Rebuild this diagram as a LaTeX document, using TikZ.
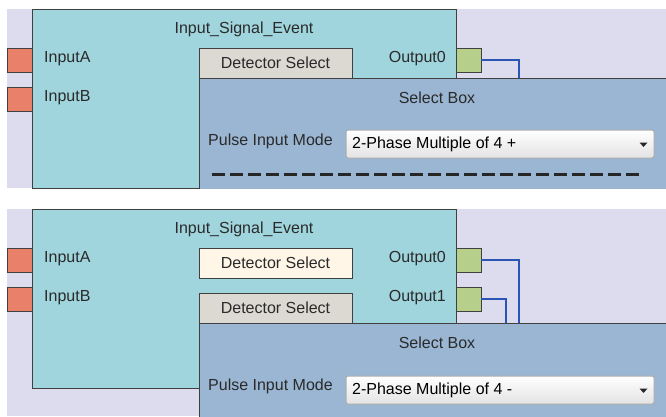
\documentclass[tikz,border=0pt]{standalone}
\usepackage{fontspec}
\setmainfont{Liberation Sans}
\definecolor{bglav}{HTML}{DCDCEE}
\definecolor{tealf}{HTML}{A0D5DD}
\definecolor{self}{HTML}{9AB6D3}
\definecolor{inport}{HTML}{E8806A}
\definecolor{outport}{HTML}{B6CF8A}
\definecolor{detgray}{HTML}{DCD9D2}
\definecolor{detcream}{HTML}{FFF6E8}
\definecolor{edge}{HTML}{404040}
\definecolor{wireblue}{HTML}{2B55B5}
\definecolor{txt}{HTML}{2A2A2A}
\tikzset{
  box/.style={draw=edge, line width=1pt, inner sep=0pt, outer sep=0pt, anchor=north west},
  inport/.style={box, fill=inport, minimum width=25pt, minimum height=24pt},
  outport/.style={box, fill=outport, minimum width=25pt, minimum height=24pt},
  mainbox/.style={box, fill=tealf, minimum width=424pt, minimum height=179pt},
  detbox/.style={box, minimum width=153pt, minimum height=30pt, font=\fontsize{16}{18}\selectfont, text=txt},
  selbox/.style={inner sep=0pt, outer sep=0pt, anchor=north west, fill=self, minimum width=467pt},
  lbl/.style={inner sep=0pt, font=\fontsize{16}{18}\selectfont, text=txt},
  wire/.style={draw=wireblue, line width=1.6pt},
  dropdown/.style={draw=gray!65, line width=1pt, rounded corners=2pt, inner sep=0pt, outer sep=0pt,
    anchor=north west, top color=white, bottom color=gray!22, minimum width=308pt, minimum height=28pt},
  ddtext/.style={inner sep=0pt, anchor=west, font=\fontsize{16}{18}\selectfont, text=black},
  dashline/.style={draw=black!85, line width=3pt, dash pattern=on 12.5pt off 5.5pt},
}
\begin{document}
\begin{tikzpicture}[x=1pt,y=-1pt]
\useasboundingbox[fill=white] (0,0) rectangle (666,416);
% ================= top panel =================
\fill[bglav] (7,9) rectangle (666,188);
\node[mainbox] (ise1) at (32,9) {};
\node[inport] (inA1) at (7,48) {};
\node[inport] (inB1) at (7,87) {};
\node[outport] (out01) at (456,48) {};
\node[selbox, minimum height=110.6pt] (sb1) at (199,78) {};
\draw[edge, line width=1pt] (sb1.south west) -- (sb1.north west) -- (sb1.north east);
\node[detbox, fill=detgray] (det1) at (199,48) {Detector Select};
\node[lbl] (t1) at (244,29) {Input\_Signal\_Event};
\node[lbl, anchor=west] (la1) at (44,59) {InputA};
\node[lbl, anchor=west] (lb1) at (44,98) {InputB};
\node[lbl, anchor=east] (lo01) at (446,59) {Output0};
\node[lbl] (sbl1) at (437,98) {Select Box};
\node[lbl, anchor=west] (pim1) at (208,141) {Pulse Input Mode};
\node[dropdown] (dd1) at (346,130) {};
\node[ddtext] (ddt1) at (352,144) {2-Phase Multiple of 4 +};
\fill[black!85] ([xshift=-14.5pt,yshift=1.5pt]dd1.east) -- ++(8pt,0pt) -- ++(-4pt,-4.5pt) -- cycle;
\coordinate (j01) at (519,78);
\draw[wire] (out01.east) -| (j01);
\coordinate (ds1) at (212,174);
\coordinate (de1) at (640,174);
\draw[dashline] (ds1) -- (de1);
% ================= bottom panel =================
\fill[bglav] (7,209) rectangle (666,416);
\node[mainbox] (ise2) at (32,209) {};
\node[inport] (inA2) at (7,248) {};
\node[inport] (inB2) at (7,287) {};
\node[outport] (out02) at (456,248) {};
\node[outport] (out12) at (456,287) {};
\node[selbox, minimum height=95pt] (sb2) at (199,323) {};
\draw[edge, line width=1pt] (sb2.south west) -- (sb2.north west) -- (sb2.north east);
\node[detbox, fill=detcream] (det2a) at (199,248) {Detector Select};
\node[detbox, fill=detgray] (det2b) at (199,293) {Detector Select};
\node[lbl] (t2) at (244,229) {Input\_Signal\_Event};
\node[lbl, anchor=west] (la2) at (44,259) {InputA};
\node[lbl, anchor=west] (lb2) at (44,298) {InputB};
\node[lbl, anchor=east] (lo02) at (446,259) {Output0};
\node[lbl, anchor=east] (lo12) at (446,298) {Output1};
\node[lbl] (sbl2) at (437,343) {Select Box};
\node[lbl, anchor=west] (pim2) at (208,386) {Pulse Input Mode};
\node[dropdown] (dd2) at (346,376) {};
\node[ddtext] (ddt2) at (352,390) {2-Phase Multiple of 4 -};
\fill[black!85] ([xshift=-14.5pt,yshift=1.5pt]dd2.east) -- ++(8pt,0pt) -- ++(-4pt,-4.5pt) -- cycle;
\coordinate (j02) at (519,323);
\coordinate (j12) at (506,323);
\draw[wire] (out02.east) -| (j02);
\draw[wire] (out12.east) -| (j12);
\end{tikzpicture}
\end{document}
